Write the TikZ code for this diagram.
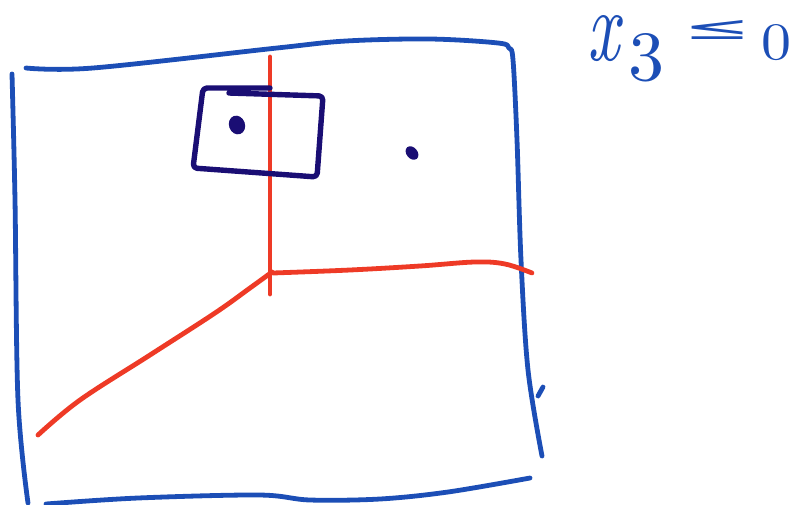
\documentclass[tikz,border=0pt]{standalone}
\usepackage{fontspec}
\newfontfamily\symfont{DejaVu Sans}
\definecolor{blueink}{RGB}{28,78,182}
\definecolor{redink}{RGB}{238,58,38}
\definecolor{navyink}{RGB}{26,14,116}
\begin{document}
\begin{tikzpicture}[x=1pt,y=-1pt,
  ink/.style={line width=4.8pt,line cap=round,line join=round},
  boxink/.style={line width=5.4pt,line cap=round,line join=round,rounded corners=4pt,navyink},
  glyph/.style={blueink,inner sep=0pt,anchor=center}]
\useasboundingbox (0,0) rectangle (794,504);
% blue square
\draw[ink,blueink] plot[smooth,tension=0.55] coordinates {(26,68) (93,68) (277,48) (346,41) (430,39) (498,43) (509,48) (513,60) (517,140) (521,260) (528,370) (542,456)};
\draw[ink,blueink] plot[smooth,tension=0.55] coordinates {(12,74) (15,200) (18,400) (28,503)};
\draw[ink,blueink] plot[smooth,tension=0.55] coordinates {(46,504) (138,498) (259,495) (310,500) (380,499) (448,492) (530,478)};
\draw[ink,blueink] (538,396) -- (543,387);
% red lines
\draw[ink,redink] (270,57) -- (270,294);
\draw[ink,redink] plot[smooth,tension=0.6] coordinates {(273,273) (350,270) (420,266) (475,262) (505,264) (532,273)};
\draw[ink,redink] plot[smooth,tension=0.6] coordinates {(38,435) (80,400) (150,355) (215,313) (250,288) (272,272)};
% navy box
\draw[boxink] (270,88) -- (203,88) -- (193,168) -- (317,177) -- (323,96) -- (229,93);
\fill[navyink,rotate around={20:(237,125)}] (237,125) ellipse (8pt and 9.5pt);
\fill[navyink,rotate around={-50:(412,153)}] (412,153) ellipse (7.5pt and 5.5pt);
% label  x_3 <= 0
\node[glyph] (lblx) at (604,39) {\resizebox{32pt}{45pt}{\itshape x}};
\node[glyph] (lbl3) at (646,58) {\resizebox{36pt}{47pt}{3}};
\node[glyph] (lblle) at (718,30) {\resizebox{68pt}{19pt}{\symfont ≤}};
\node[glyph] (lbl0) at (776,43) {\resizebox{30pt}{35pt}{0}};
\end{tikzpicture}
\end{document}
